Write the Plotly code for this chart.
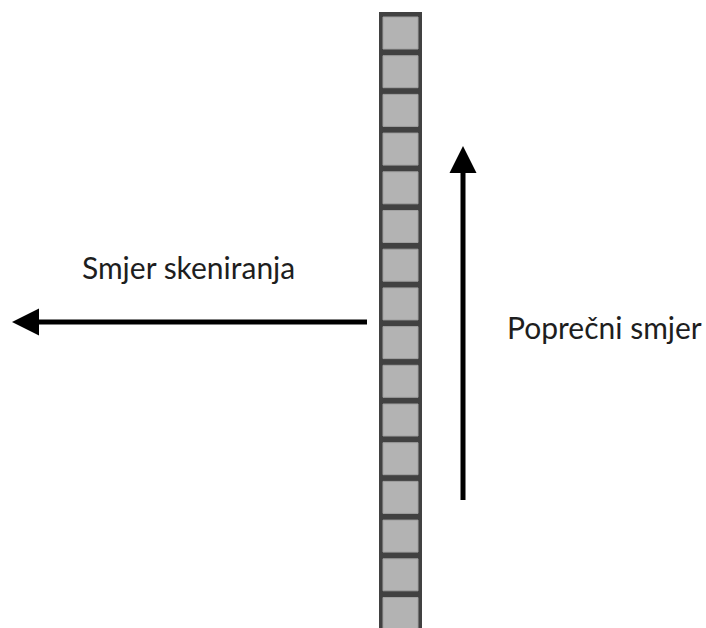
import plotly.graph_objects as go

# Diagram data
n_cells = 16
cell_index = list(range(n_cells))
cell_first_top = 17.0
cell_pitch = 38.7
cell_height = 32.0
column_x = [379, 422]
cell_x = [383, 418]
column_top = 12

scan_arrow = {"x0": 367, "x1": 12, "y": 322}
cross_arrow = {"x": 463, "y0": 500, "y1": 146}

labels = ["Smjer skeniranja", "Poprečni smjer"]
label_pos = [(188, 267), (604, 327)]

W, H = 706, 628
fig = go.Figure()
fig.add_trace(go.Scatter(x=[0, W], y=[0, H], mode="markers",
                         marker=dict(opacity=0), hoverinfo="skip", showlegend=False))

shapes = []
# column background (dark)
shapes.append(dict(type="rect", xref="x", yref="y", x0=column_x[0], x1=column_x[1],
                   y0=column_top, y1=H + 20, fillcolor="#414141", line=dict(width=0), layer="above"))
for i in cell_index:
    t = cell_first_top + i * cell_pitch
    shapes.append(dict(type="rect", xref="x", yref="y", x0=cell_x[0], x1=cell_x[1],
                       y0=t, y1=t + cell_height, fillcolor="#b3b3b3",
                       line=dict(color="#a0a0a0", width=1), layer="above"))

lw = 5
head_len = 27
head_half = 13.5
# horizontal arrow (scan direction)
sa = scan_arrow
shapes.append(dict(type="line", xref="x", yref="y", x0=sa["x0"], x1=sa["x1"] + head_len - 2,
                   y0=sa["y"], y1=sa["y"], line=dict(color="black", width=lw)))
shapes.append(dict(type="path", xref="x", yref="y",
                   path=f"M {sa['x1']} {sa['y']} L {sa['x1'] + head_len} {sa['y'] - head_half} "
                        f"L {sa['x1'] + head_len} {sa['y'] + head_half} Z",
                   fillcolor="black", line=dict(width=0)))
# vertical arrow (cross direction)
ca = cross_arrow
shapes.append(dict(type="line", xref="x", yref="y", x0=ca["x"], x1=ca["x"],
                   y0=ca["y0"], y1=ca["y1"] + head_len - 2, line=dict(color="black", width=lw)))
shapes.append(dict(type="path", xref="x", yref="y",
                   path=f"M {ca['x']} {ca['y1']} L {ca['x'] - head_half} {ca['y1'] + head_len} "
                        f"L {ca['x'] + head_half} {ca['y1'] + head_len} Z",
                   fillcolor="black", line=dict(width=0)))

annotations = []
for text, (x, y) in zip(labels, label_pos):
    annotations.append(dict(x=x, y=y, xref="x", yref="y", text=text, showarrow=False,
                            xanchor="center", yanchor="middle",
                            font=dict(family="Lato", size=30, color="#1e1e1e")))

fig.update_layout(
    width=W, height=H, margin=dict(l=0, r=0, t=0, b=0),
    paper_bgcolor="white", plot_bgcolor="white",
    xaxis=dict(range=[0, W], visible=False, fixedrange=True),
    yaxis=dict(range=[H, 0], visible=False, fixedrange=True),
    shapes=shapes, annotations=annotations, showlegend=False,
)
fig.write_html("out.html", config={"displayModeBar": False},
               post_script="document.body.style.margin='0';document.body.style.overflow='hidden';")
